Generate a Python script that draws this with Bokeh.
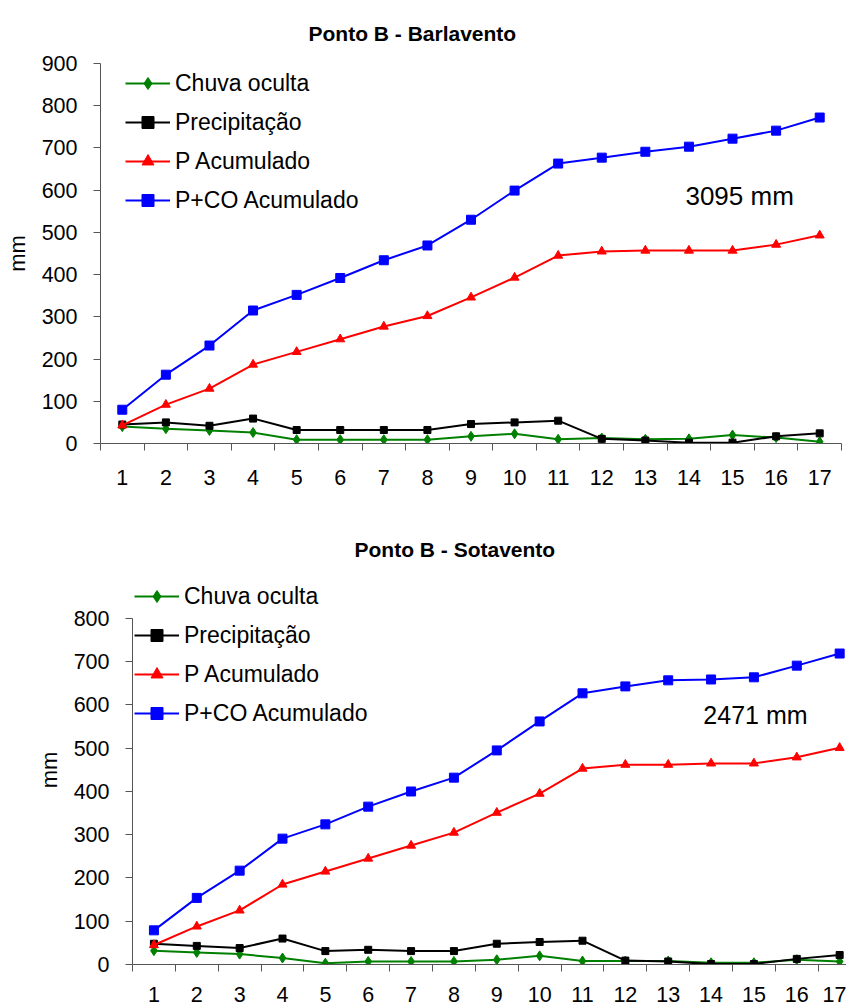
from bokeh.plotting import figure
from bokeh.models import (FixedTicker, Legend, LegendItem, Label, Range1d, Title)
from bokeh.embed import file_html
from bokeh.resources import INLINE

# ---------------- data ----------------
days = list(range(1, 18))
tick_labels = [str(d) for d in days]

# Ponto B - Barlavento
bar_chuva_oculta = [40, 35, 31, 26, 9, 9, 9, 9, 17, 23, 10, 13, 10, 11, 20, 14, 4]
bar_precipitacao = [45, 50, 42, 59, 32, 32, 32, 32, 46, 50, 54, 11, 7, 2, 2, 17, 24]
bar_p_acumulado = [43, 92, 130, 187, 217, 247, 277, 302, 346, 393, 445, 455, 457, 457, 457, 471, 493]
bar_pco_acumulado = [80, 163, 232, 315, 352, 392, 434, 469, 530, 599, 663, 677, 691, 703, 722, 741, 772]

# Ponto B - Sotavento
sot_chuva_oculta = [32, 28, 24, 15, 3, 7, 7, 7, 11, 20, 8, 8, 8, 4, 4, 11, 7]
sot_precipitacao = [48, 43, 38, 60, 31, 34, 31, 31, 48, 52, 55, 9, 7, 1, 1, 13, 22]
sot_p_acumulado = [45, 88, 125, 185, 215, 245, 275, 305, 351, 395, 453, 462, 462, 465, 465, 479, 501]
sot_pco_acumulado = [79, 154, 217, 291, 324, 365, 400, 432, 495, 562, 627, 643, 657, 659, 664, 691, 719]

series_names = ["Chuva oculta", "Precipitação", "P Acumulado", "P+CO Acumulado"]
series_colors = ["#008000", "#000000", "#FF0000", "#0000FF"]
series_markers = ["diamond", "square", "triangle", "square"]
series_sizes = [10, 7, 9, 9]

FONT = "Liberation Sans"


def make_chart(title, series, ymax, yticks, ybounds, width, height, bl, br, bt, bb,
               xend, title_offset, title_standoff, legend_loc, total_text,
               total_x, total_y, total_size, xlabel_standoff, ylabel_standoff):
    p = figure(width=width, height=height, output_backend="svg",
               toolbar_location=None, x_range=Range1d(0.5, xend),
               y_range=Range1d(0, ymax), min_border_left=bl,
               min_border_right=br, min_border_top=bt, min_border_bottom=bb)
    p.outline_line_color = None
    p.grid.grid_line_color = None
    p.background_fill_color = "white"
    p.border_fill_color = "white"

    t = Title(text=title, align="left", offset=title_offset,
              text_font=FONT, text_font_size="21px", text_font_style="bold",
              text_color="black", standoff=title_standoff)
    p.add_layout(t, "above")

    items = []
    for name, vals, col, mk, sz in zip(series_names, series, series_colors,
                                       series_markers, series_sizes):
        r1 = p.line(days, vals, line_color=col, line_width=2)
        r2 = p.scatter(days, vals, marker=mk, size=sz, fill_color=col,
                       line_color=col)
        items.append(LegendItem(label=name, renderers=[r1, r2]))

    leg = Legend(items=items, location=legend_loc, glyph_width=45,
                 glyph_height=30, label_height=30, spacing=9, padding=0,
                 margin=0, border_line_color=None, background_fill_alpha=0,
                 label_standoff=5, label_text_font=FONT,
                 label_text_font_size="23px", label_text_color="black")
    p.add_layout(leg)

    p.add_layout(Label(x=total_x, y=total_y, text=total_text,
                       text_font=FONT, text_font_size=total_size,
                       text_baseline="middle", text_align="left",
                       text_color="black"))

    axc = "#555555"
    xa = p.xaxis[0]
    xa.ticker = FixedTicker(ticks=days,
                            minor_ticks=[d - 0.5 for d in days] + [17.5])
    xa.major_label_overrides = {d: s for d, s in zip(days, tick_labels)}
    xa.major_tick_out = 0
    xa.major_tick_in = 0
    xa.minor_tick_out = 7
    xa.minor_tick_in = 0
    xa.minor_tick_line_color = axc
    xa.axis_line_color = axc
    xa.major_label_text_font = FONT
    xa.major_label_text_font_size = "21.5px"
    xa.major_label_text_color = "black"
    xa.major_label_standoff = xlabel_standoff

    ya = p.yaxis[0]
    ya.ticker = FixedTicker(ticks=yticks)
    ya.bounds = ybounds
    ya.major_tick_out = 7
    ya.major_tick_in = 0
    ya.minor_tick_line_color = None
    ya.axis_line_color = axc
    ya.major_tick_line_color = axc
    ya.major_label_text_font = FONT
    ya.major_label_text_font_size = "21.5px"
    ya.major_label_text_color = "black"
    ya.major_label_standoff = 16
    ya.axis_label = "mm"
    ya.axis_label_text_font = FONT
    ya.axis_label_text_font_size = "22px"
    ya.axis_label_text_font_style = "normal"
    ya.axis_label_text_color = "black"
    ya.axis_label_standoff = ylabel_standoff
    return p


# top chart: frame 100..841 x, 63..443 y
p1 = make_chart("Ponto B -  Barlavento",
                [bar_chuva_oculta, bar_precipitacao, bar_p_acumulado, bar_pco_acumulado],
                900, list(range(0, 1000, 100)), (0, 900), 846, 505, 100, 5, 63, 62,
                17.5, 208, 37, (25, 228), "3095 mm", 13.92, 587, "26px",
                19, 9)

# bottom chart: frame 132..846 x, 575..964 y (page), axis drawn 0..800
p2 = make_chart("Ponto B - Sotavento",
                [sot_chuva_oculta, sot_precipitacao, sot_p_acumulado, sot_pco_acumulado],
                899.4, list(range(0, 900, 100)), (0, 800), 846, 501, 132, 0, 70, 42,
                17.16, 222, 29, (2, 236), "2471 mm", 13.82, 576, "25px",
                15, 9)

open("out.html", "w").write(file_html([p1, p2], INLINE))
